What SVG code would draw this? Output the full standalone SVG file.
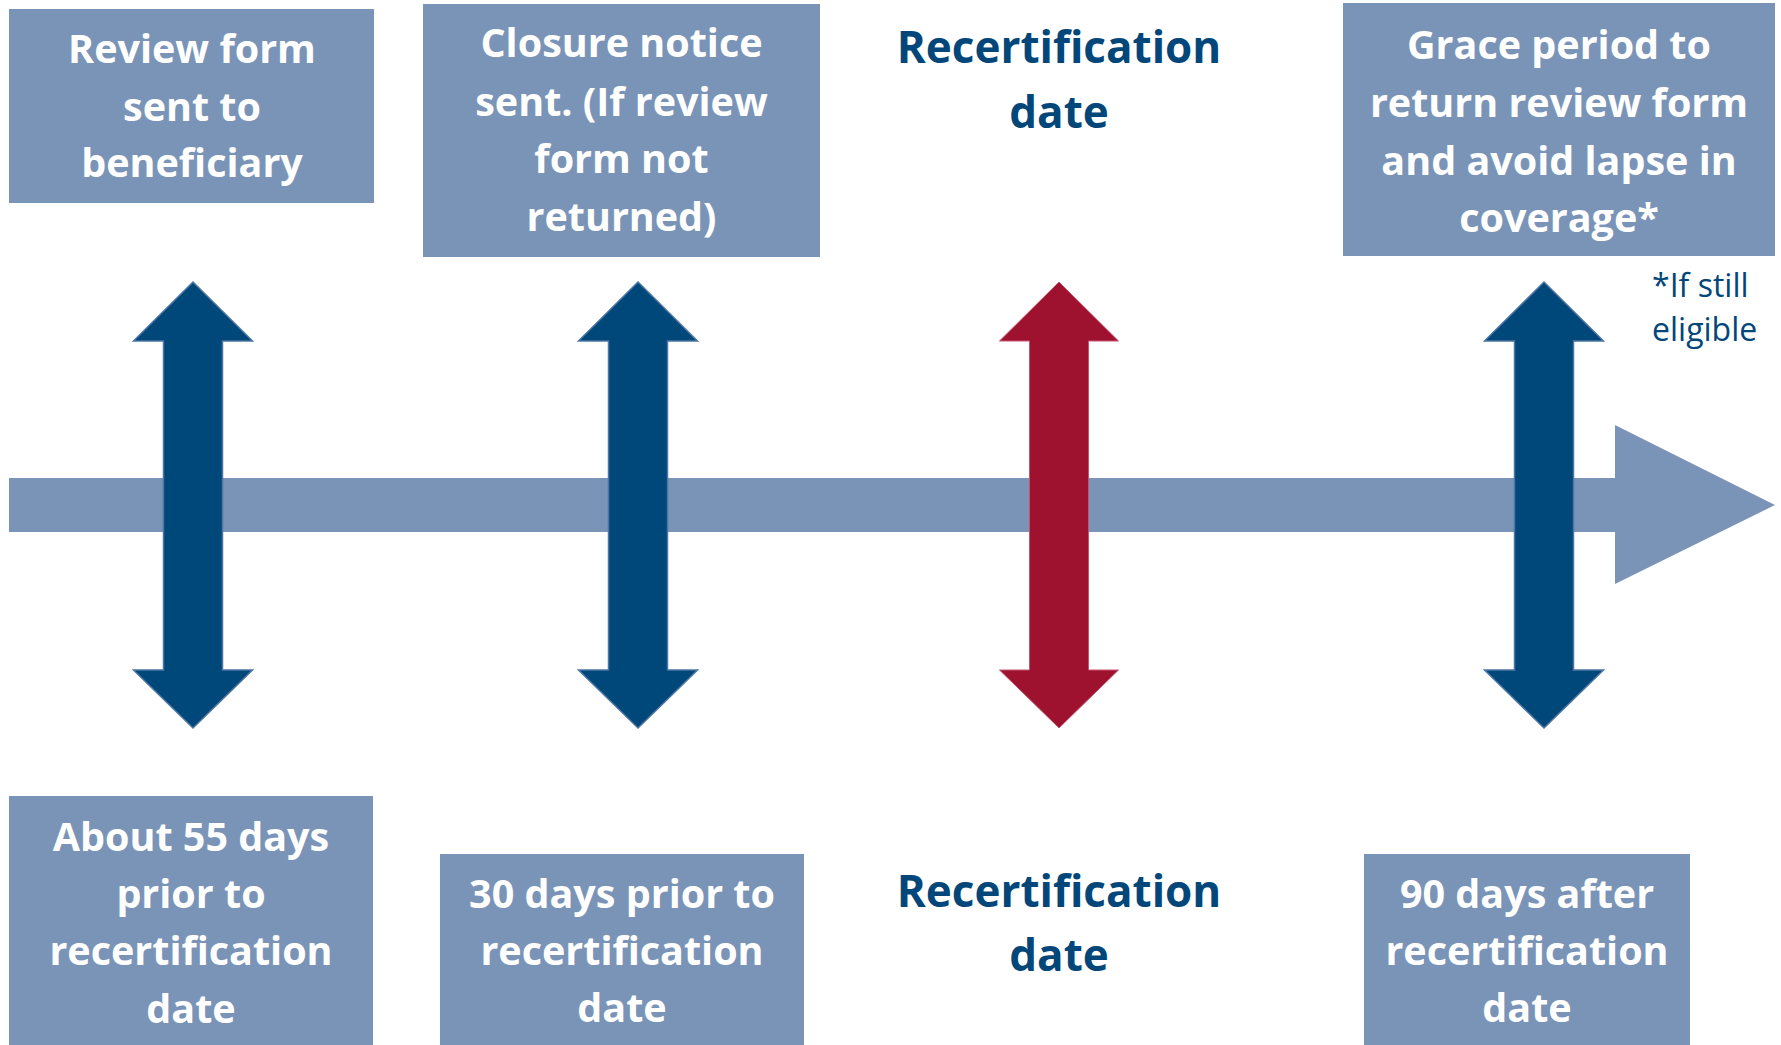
<svg xmlns="http://www.w3.org/2000/svg" xmlns:xlink="http://www.w3.org/1999/xlink" width="1781" height="1045" viewBox="0 0 1781 1045">
<style>
.box{fill:#7A94B8}
.bt{font-family:"Open Sans","Noto Sans","Liberation Sans",sans-serif;font-weight:700;font-size:39.5px;fill:#FFFFFF;text-anchor:middle}
.rt{font-family:"Open Sans","Noto Sans","Liberation Sans",sans-serif;font-weight:700;font-size:44px;fill:#03477A;text-anchor:middle}
.fn{font-family:"Open Sans","Noto Sans","Liberation Sans",sans-serif;font-weight:400;font-size:32px;fill:#03477A}
.blue{fill:#00477A;stroke:#4D76A3;stroke-width:1.5}
.red{fill:#9E1230;stroke:#C25670;stroke-width:1}
</style>
<defs>
<path id="dbl" d="M0,282 L59.5,341 L29.5,341 L29.5,670 L59.5,670 L0,728 L-59.5,670 L-29.5,670 L-29.5,341 L-59.5,341 Z"/>
</defs>
<rect width="1781" height="1045" fill="#FFFFFF"/>
<g id="connectors">
<path id="timeline" fill="#7A94B8" d="M9,478 L1615,478 L1615,425 L1775,505 L1615,584 L1615,532 L9,532 Z"/>
<use xlink:href="#dbl" href="#dbl" class="blue" transform="translate(193,0)"/>
<use xlink:href="#dbl" href="#dbl" class="blue" transform="translate(638,0)"/>
<use xlink:href="#dbl" href="#dbl" class="red" transform="translate(1059,0)"/>
<use xlink:href="#dbl" href="#dbl" class="blue" transform="translate(1544,0)"/>
</g>
<g id="node-review-form">
<rect class="box" x="9" y="9" width="365" height="194"/>
<text class="bt" x="192" y="63">Review form</text>
<text class="bt" x="192" y="121">sent to</text>
<text class="bt" x="192" y="177">beneficiary</text>
</g>
<g id="node-closure-notice">
<rect class="box" x="423" y="4" width="397" height="253"/>
<text class="bt" x="621.5" y="57">Closure notice</text>
<text class="bt" x="621.5" y="116">sent. (If review</text>
<text class="bt" x="621.5" y="173">form not</text>
<text class="bt" x="621.5" y="231">returned)</text>
</g>
<g id="node-recert-top">
<text class="rt" x="1059" y="63">Recertification</text>
<text class="rt" x="1059" y="128">date</text>
</g>
<g id="node-grace">
<rect class="box" x="1343" y="3" width="432" height="253"/>
<text class="bt" x="1559" y="59">Grace period to</text>
<text class="bt" x="1559" y="117">return review form</text>
<text class="bt" x="1559" y="175">and avoid lapse in</text>
<text class="bt" x="1559" y="232">coverage*</text>
</g>
<g id="node-footnote">
<text class="fn" x="1652" y="297">*If still</text>
<text class="fn" x="1652" y="341">eligible</text>
</g>
<g id="node-55-days">
<rect class="box" x="9" y="796" width="364" height="249"/>
<text class="bt" x="191" y="851">About 55 days</text>
<text class="bt" x="191" y="908">prior to</text>
<text class="bt" x="191" y="965">recertification</text>
<text class="bt" x="191" y="1023">date</text>
</g>
<g id="node-30-days">
<rect class="box" x="440" y="854" width="364" height="191"/>
<text class="bt" x="622" y="908">30 days prior to</text>
<text class="bt" x="622" y="965">recertification</text>
<text class="bt" x="622" y="1022">date</text>
</g>
<g id="node-recert-bottom">
<text class="rt" x="1059" y="907">Recertification</text>
<text class="rt" x="1059" y="971">date</text>
</g>
<g id="node-90-days">
<rect class="box" x="1364" y="854" width="326" height="191"/>
<text class="bt" x="1527" y="908">90 days after</text>
<text class="bt" x="1527" y="965">recertification</text>
<text class="bt" x="1527" y="1022">date</text>
</g>
</svg>
